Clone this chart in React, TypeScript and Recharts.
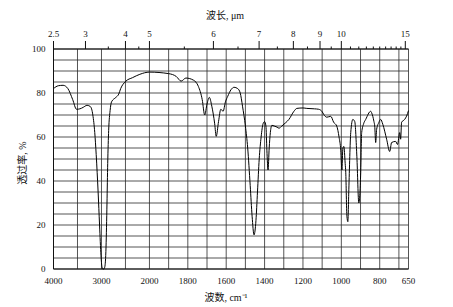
import React from 'react';
import { LineChart, Line, XAxis, YAxis, CartesianGrid, Label } from 'recharts';

// Spectrum: wavenumber (cm^-1) and transmittance (%)
const wavenumbers = [
  4000, 3900, 3800, 3700, 3600, 3520, 3450, 3380, 3300, 3230, 3180, 3140, 3110, 3070, 3040, 3010,
  2990, 2970, 2950, 2930, 2905, 2885, 2870, 2850, 2820, 2790, 2700, 2640, 2600, 2500, 2350, 2200,
  2000, 1900, 1860, 1835, 1810, 1770, 1745, 1725, 1712, 1700, 1688, 1675, 1660, 1652, 1640, 1628,
  1616, 1604, 1592, 1575, 1559, 1540, 1527, 1515, 1500, 1488, 1475, 1465, 1455, 1445, 1437, 1428,
  1418, 1408, 1400, 1393, 1388, 1382, 1376, 1370, 1362, 1350, 1335, 1325, 1310, 1290, 1273, 1247,
  1232, 1200, 1180, 1140, 1118, 1100, 1092, 1076, 1055, 1040, 1024, 1012, 1003, 997, 992, 987,
  980, 977, 971, 966, 961, 951, 940, 930, 919, 909, 899, 894, 884, 873, 847, 842, 830, 826, 821,
  816, 805, 795, 784, 764, 748, 738, 717, 707, 696, 691, 686, 670, 660, 650,
];
const transmittance = [
  82, 83.3, 83.5, 82, 77, 72.6, 72.8, 73.5, 74.4, 73.8, 70, 62, 52, 35, 20, 6,
  1, 0, 0, 1, 10, 30, 48, 63, 72, 76, 78, 79.5, 82, 85.2, 87, 88.5,
  89.5, 88.8, 87.5, 85.4, 86.8, 85.8, 83, 77, 70, 75, 78, 74, 66, 60.3, 67, 72.6,
  71.7, 76, 78.5, 81.5, 82.6, 82, 80, 74, 65, 55, 38, 24, 15.5, 22, 35, 50,
  60, 66, 67, 65, 54, 45, 55, 62, 65.3, 65, 64.5, 64, 65, 66.5, 68, 71.7,
  73, 73.2, 73, 72.8, 72.6, 71.5, 70.3, 69, 69.4, 66.7, 65, 60, 54, 45, 55, 55.7,
  48, 44, 24, 21.5, 36, 62, 68, 67, 51, 30, 44, 62, 66, 68, 71.7, 71, 67, 65, 57.5,
  63.5, 66.5, 68, 65.8, 59, 53.4, 57.5, 58, 56.6, 62, 59, 66.7, 68, 69.5, 72,
];

const gridWavenumbers = [
  4000, 3500, 3000, 2500, 2000, 1900, 1800, 1700, 1600, 1500, 1400, 1300, 1200, 1100, 1000, 900,
  800, 700, 650,
];
const bottomLabels = [4000, 3000, 2000, 1800, 1600, 1400, 1200, 1000, 800, 650];
const wavelengthMajor = [2.5, 3, 4, 5, 6, 7, 8, 9, 10, 15];
const wavelengthMinor = [3.5, 4.5, 5.5, 6.5, 7.5, 8.5, 9.5, 10.5, 11, 11.5, 12, 12.5, 13, 13.5, 14, 14.5];
const yTicks = [0, 5, 10, 15, 20, 25, 30, 35, 40, 45, 50, 55, 60, 65, 70, 75, 80, 85, 90, 95, 100];
const yLabels = [0, 20, 40, 60, 80, 100];

// Two-scale IR abscissa: 4000-2000 compressed 4:1 relative to 2000-650
const toU = (nu: number) => (nu >= 2000 ? (4000 - nu) / 4 : 500 + (2000 - nu));
const fromU = (u: number) => (u <= 500 ? 4000 - 4 * u : 2000 - (u - 500));

const data = wavenumbers.map((nu, i) => ({ u: toU(nu), t: transmittance[i] }));
const gridU = gridWavenumbers.map(toU);

const topTickList = [
  ...wavelengthMajor.map((l) => ({ u: toU(10000 / l), label: String(l), major: true })),
  ...wavelengthMinor.map((l) => ({ u: toU(10000 / l), label: '', major: false })),
].sort((a, b) => a.u - b.u);
const topTicks = topTickList.map((t) => t.u);

const FONT = "'Liberation Serif', 'Noto Sans CJK SC', serif";
const INK = '#111';

const TopTick = (props: any) => {
  const { x, y, payload } = props;
  const item = topTickList.reduce((best, t) =>
    Math.abs(t.u - payload.value) < Math.abs(best.u - payload.value) ? t : best
  );
  const axisY = y + 12;
  const len = item.major ? 8 : 2.5;
  return (
    <g>
      <line x1={x} x2={x} y1={axisY - len} y2={axisY} stroke={INK} strokeWidth={1} />
      {item.major && (
        <text x={x} y={y} textAnchor="middle" fontSize={9} fontFamily={FONT} fill={INK}>
          {item.label}
        </text>
      )}
    </g>
  );
};

const TopTitle = (props: any) => {
  const vb = props.viewBox;
  return (
    <text x={vb.x + vb.width / 2 - 6} y={vb.y + 19} textAnchor="middle" fontSize={10} fontFamily={FONT} fill={INK}>
      波长, μm
    </text>
  );
};

const BottomTitle = (props: any) => {
  const vb = props.viewBox;
  return (
    <text x={vb.x + vb.width / 2 - 5} y={vb.y + 32} textAnchor="middle" fontSize={10} fontFamily={FONT} fill={INK}>
      波数, cm⁻¹
    </text>
  );
};

const LeftTitle = (props: any) => {
  const vb = props.viewBox;
  const cx = vb.x + 22;
  const cy = vb.y + vb.height / 2 + 4;
  return (
    <text
      x={cx}
      y={cy}
      transform={`rotate(-90, ${cx}, ${cy})`}
      textAnchor="middle"
      dominantBaseline="central"
      fontSize={10}
      fontFamily={FONT}
      fill={INK}
    >
      透过率, %
    </text>
  );
};

export default function App() {
  return (
    <div style={{ position: 'absolute', left: 0, top: 0, width: 453, height: 307, background: '#fff' }}>
      <LineChart width={453} height={307} data={data} margin={{ top: 0, right: 44.5, bottom: 0, left: 0 }}>
        <CartesianGrid stroke="#2a2a2a" strokeWidth={0.8} verticalPoints={undefined} />
        <XAxis
          xAxisId={0}
          dataKey="u"
          type="number"
          domain={[0, 1850]}
          ticks={gridU}
          interval={0}
          height={38}
          tickSize={0}
          tickMargin={9}
          tickLine={false}
          axisLine={{ stroke: INK }}
          tickFormatter={(u: number) => {
            const nu = Math.round(fromU(u));
            return bottomLabels.includes(nu) ? String(nu) : '';
          }}
          tick={{ fontSize: 9, fontFamily: FONT, fill: INK }}
        >
          <Label content={<BottomTitle />} />
        </XAxis>
        <XAxis
          xAxisId="top"
          orientation="top"
          dataKey="u"
          type="number"
          domain={[0, 1850]}
          ticks={topTicks}
          interval={0}
          height={49}
          tickSize={8}
          tickMargin={4}
          tickLine={false}
          axisLine={{ stroke: INK }}
          tick={<TopTick />}
        >
          <Label content={<TopTitle />} />
        </XAxis>
        <YAxis
          type="number"
          domain={[0, 100]}
          ticks={yTicks}
          interval={0}
          width={53.5}
          tickSize={0}
          tickMargin={8}
          tickLine={false}
          axisLine={{ stroke: INK }}
          tickFormatter={(v: number) => (yLabels.includes(v) ? String(v) : '')}
          tick={{ fontSize: 9, fontFamily: FONT, fill: INK }}
        >
          <Label content={<LeftTitle />} />
        </YAxis>
        <Line
          dataKey="t"
          type="monotone"
          stroke="#000"
          strokeWidth={1}
          dot={false}
          isAnimationActive={false}
        />
      </LineChart>
    </div>
  );
}
